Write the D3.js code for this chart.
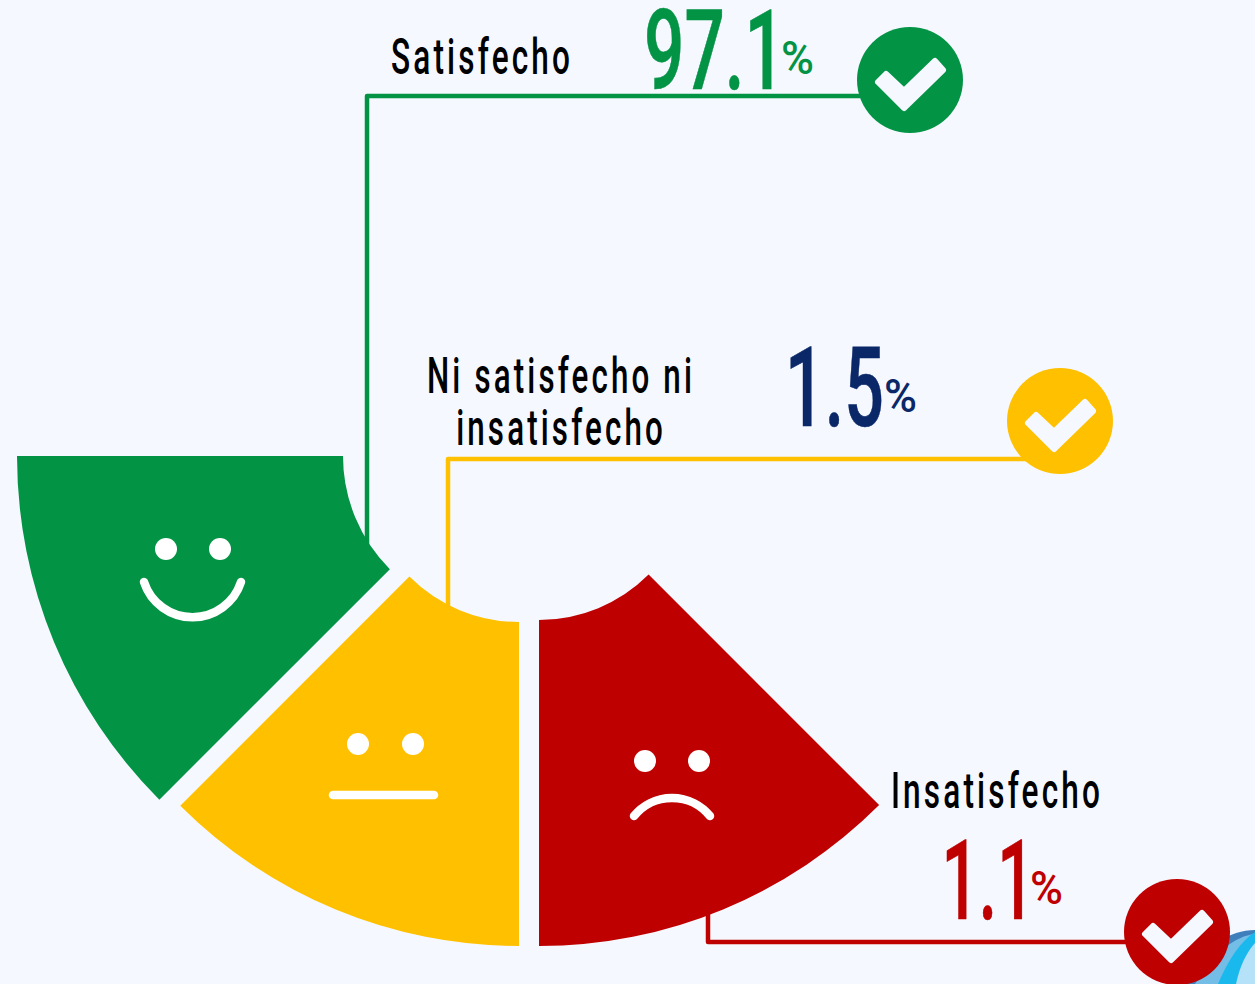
<!DOCTYPE html>
<html><head><meta charset="utf-8">
<script src="https://cdn.jsdelivr.net/npm/d3@7"></script>
<style>html,body{margin:0;padding:0;background:#f5f8fe;overflow:hidden}svg{display:block}
text{font-family:"Roboto",sans-serif}</style></head><body>
<svg id="c" width="1255" height="984"></svg>
<script>
const categories = ["Satisfecho", "Ni satisfecho ni insatisfecho", "Insatisfecho"];
const values = [97.1, 1.5, 1.1];
const valueLabels = ["97.1", "1.5", "1.1"];
const sliceColors = ["#039345", "#ffc000", "#bf0000"];
const valueColors = ["#039345", "#0a2768", "#bf0000"];

const svg = d3.select("#c");
const W = "#f5f8fe";

// decorative corner logo
const corner = svg.append("g");
corner.append("path").attr("d","M1180 984 C1205 945 1230 930 1255 930 L1255 984 Z").attr("fill","#3f7fbb");
corner.append("path").attr("d","M1195 984 C1215 952 1235 936 1255 934 L1255 984 Z").attr("fill","#74bde6");
corner.append("path").attr("d","M1218 984 C1228 960 1240 942 1255 932 L1255 984 Z").attr("fill","#19b9ee");
corner.append("path").attr("d","M1236 984 C1240 965 1247 952 1255 943 L1255 984 Z").attr("fill","#b5e2f8");

// leader lines
const lineGen = d3.line();
const leaders = [
  [[367,545],[367,96],[865,96]],
  [[448,612],[448,459],[1035,459]],
  [[708,905],[708,942],[1130,942]]
];
svg.selectAll("path.leader").data(leaders).join("path").attr("class","leader")
  .attr("d",lineGen).attr("fill","none").attr("stroke-width",4.5).attr("stroke-linejoin","round")
  .attr("stroke",(d,i)=>sliceColors[i]);

// wedges: three equal sectors, each exploded from its own centre
const pie = d3.pie().value(()=>1).sort(null).startAngle(Math.PI*1.5).endAngle(Math.PI*0.75);
const slices = pie(categories);
const geom = [
  {cx:503,cy:456,r0:160,r1:486},
  {cx:519,cy:467,r0:155,r1:479},
  {cx:539,cy:465,r0:155,r1:481}
];
const arc = d3.arc();
svg.selectAll("path.slice").data(slices).join("path").attr("class","slice")
  .attr("transform",(d,i)=>`translate(${geom[i].cx},${geom[i].cy})`)
  .attr("d",(d,i)=>arc({innerRadius:geom[i].r0,outerRadius:geom[i].r1,startAngle:d.endAngle,endAngle:d.startAngle}))
  .attr("fill",(d,i)=>sliceColors[i]);

// faces
const eyes = [[166,549],[220,549],[358,744],[413,744],[645,761],[699,761]];
svg.selectAll("circle.eye").data(eyes).join("circle").attr("class","eye")
  .attr("cx",d=>d[0]).attr("cy",d=>d[1]).attr("r",11).attr("fill","#fff");
const mouths = ["M144 582 A51 51 0 0 0 241 582","M333 795 L434 795","M634 816 A49 49 0 0 1 710 816"];
svg.selectAll("path.mouth").data(mouths).join("path").attr("class","mouth")
  .attr("d",d=>d).attr("fill","none").attr("stroke","#fff").attr("stroke-width",8.5).attr("stroke-linecap","round");

// check badges
const badges = [[910,80],[1060,421],[1177,932]];
const check = [[-32,2],[-24,-6],[-6,11],[25,-19],[33,-10],[-6,28]];
const b = svg.selectAll("g.badge").data(badges).join("g").attr("class","badge")
  .attr("transform",d=>`translate(${d[0]},${d[1]})`);
b.append("circle").attr("r",53).attr("fill",(d,i)=>sliceColors[i]);
b.append("path").attr("d",lineGen(check)+"Z").attr("fill",W).attr("stroke",W)
  .attr("stroke-width",6).attr("stroke-linejoin","round");

// text: a condensed look, obtained by squeezing the glyphs to the measured width
function fit(t,x,y,w,size,fill,weight,spacing,bold){
  const el = svg.append("text").attr("font-size",size).attr("fill",fill)
    .attr("font-weight",weight).style("letter-spacing",spacing+"px").text(t);
  const len = el.node().getComputedTextLength()-spacing;
  el.attr("transform",`translate(${x},${y}) scale(${w/len},1)`);
  if(bold) el.attr("stroke",fill).attr("stroke-width",bold);
  return el;
}
fit(categories[0],391,74,179,50,"#000",500,5);
fit(categories[2],891,808,209,50,"#000",500,5);

// the two-line label is one text element
const two = svg.append("text").attr("font-size",50).attr("font-weight",500).attr("fill","#000")
  .attr("text-anchor","middle").style("letter-spacing","5px");
const lines = ["Ni satisfecho ni","insatisfecho"];
two.selectAll("tspan").data(lines).join("tspan").attr("x",0).attr("dy",(d,i)=>i?52:0).text(d=>d);
const full = two.select("tspan").node().getComputedTextLength()-5;
two.attr("transform",`translate(561,393) scale(${265/full},1)`);

const valPos = [[644,89,141],[785,426,99],[941.5,919,93]];
const pctPos = [[781,74],[884,412],[1030,904]];
valueLabels.forEach((v,i)=>{
  fit(v,valPos[i][0],valPos[i][1],valPos[i][2],112,valueColors[i],500,0,0.6);
  fit("%",pctPos[i][0],pctPos[i][1],33,46,valueColors[i],500,0);
});
</script></body></html>
